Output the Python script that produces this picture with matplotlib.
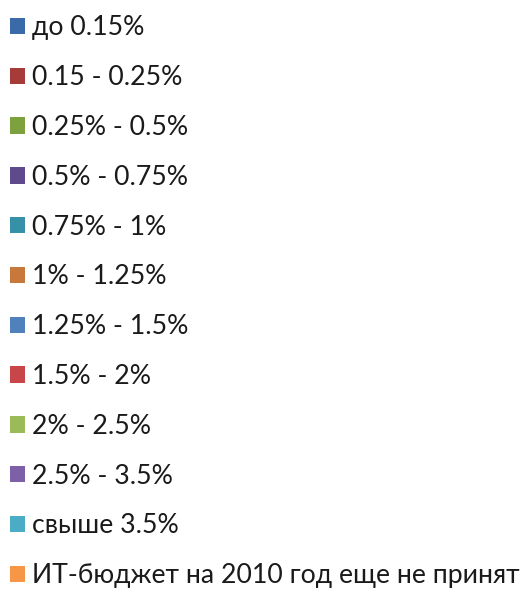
import matplotlib
matplotlib.use("Agg")
import matplotlib.pyplot as plt
from matplotlib.patches import Patch

labels = ["до 0.15%", "0.15 - 0.25%", "0.25% - 0.5%", "0.5% - 0.75%", "0.75% - 1%",
          "1% - 1.25%", "1.25% - 1.5%", "1.5% - 2%", "2% - 2.5%", "2.5% - 3.5%",
          "свыше 3.5%", "ИТ-бюджет на 2010 год еще не принят"]
colors = ["#3A6BA8", "#A63B3A", "#7DA13E", "#5E4A8C", "#3690A8", "#C8783A",
          "#4F81BD", "#C8464A", "#9BBB59", "#7D60A8", "#4BACC6", "#F79646"]

plt.rcParams['font.family'] = ['Lato', 'DejaVu Sans']
fig = plt.figure(figsize=(5.27, 5.96), dpi=100)
fig.patch.set_facecolor("white")

handles = [Patch(facecolor=c, edgecolor="none", label=l) for l, c in zip(labels, colors)]
leg = fig.legend(handles=handles, loc="upper left", bbox_to_anchor=(-0.011, 1.0),
                 frameon=False, fontsize=19.2, handlelength=0.57, handleheight=0.57,
                 handletextpad=0.25, labelspacing=0.93, borderpad=0.58, borderaxespad=0)
for t in leg.get_texts():
    t.set_color("#1a1a1a")

fig.savefig("out.png", dpi=100, facecolor="white")
